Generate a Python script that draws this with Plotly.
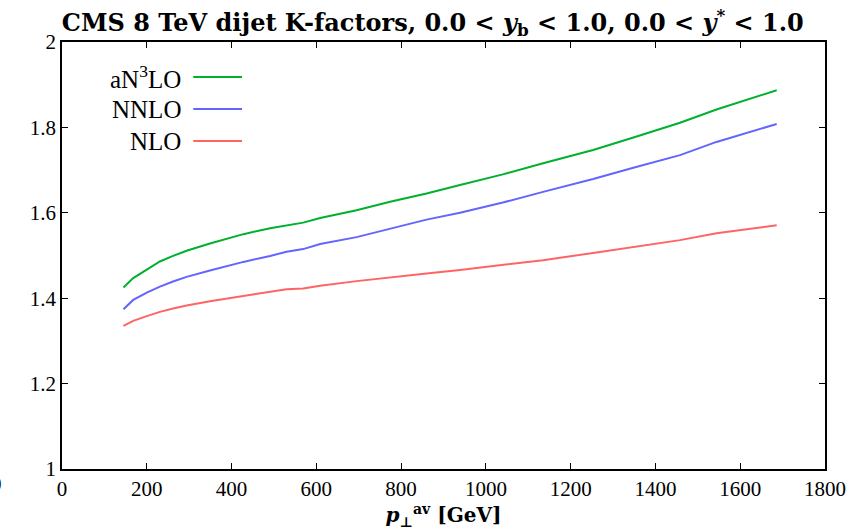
import plotly.graph_objects as go

pt = [145, 168, 200, 231, 262, 294, 349, 428, 491, 530, 569, 609, 695, 774,
      860, 939, 1040, 1135, 1253, 1350, 1458, 1544, 1686]
an3lo = [1.425, 1.447, 1.467, 1.486, 1.499, 1.511, 1.528, 1.550, 1.564, 1.571,
         1.577, 1.588, 1.606, 1.626, 1.645, 1.665, 1.690, 1.716, 1.747, 1.777,
         1.811, 1.842, 1.887]
nnlo = [1.374, 1.396, 1.413, 1.427, 1.439, 1.450, 1.465, 1.485, 1.499, 1.509,
        1.515, 1.527, 1.543, 1.563, 1.584, 1.600, 1.624, 1.649, 1.679, 1.706,
        1.735, 1.766, 1.808]
nlo = [1.335, 1.347, 1.358, 1.368, 1.376, 1.383, 1.393, 1.405, 1.414, 1.421,
       1.423, 1.429, 1.440, 1.449, 1.458, 1.466, 1.477, 1.489, 1.506, 1.520,
       1.536, 1.552, 1.571]

series_names = ["aN<sup>3</sup>LO", "NNLO", "NLO"]
series_vals = [an3lo, nnlo, nlo]
colors = ["#00b02e", "#6464ff", "#ff6464"]

FONT = "Liberation Serif"
WIDE = "DejaVu Serif"

fig = go.Figure()
for name, vals, c in zip(series_names, series_vals, colors):
    fig.add_trace(go.Scatter(x=pt, y=vals, mode="lines", name=name,
                             line=dict(color=c, width=2), showlegend=False))

# manual legend (text right, line sample to its right)
leg_y = [0.918, 0.843, 0.768]
for name, c, yy in zip(series_names, colors, leg_y):
    fig.add_annotation(xref="paper", yref="paper", x=0.158, y=yy, text=name,
                       showarrow=False, xanchor="right", yanchor="middle",
                       font=dict(family=FONT, size=25, color="black"))
    fig.add_shape(type="line", xref="paper", yref="paper", x0=0.172, x1=0.236,
                  y0=yy, y1=yy, line=dict(color=c, width=2))

# cut-off label at far left
fig.add_annotation(xref="paper", yref="paper", x=-0.076, y=-0.035, text="0",
                   showarrow=False, xanchor="right", yanchor="middle",
                   font=dict(family=FONT, size=21, color="black"))

axis_common = dict(showline=True, linecolor="black", linewidth=1.5, mirror="ticks",
                   ticks="inside", ticklen=6, tickcolor="black", showgrid=False,
                   zeroline=False, tickfont=dict(family=FONT, size=21, color="black"))

fig.update_layout(
    width=863, height=532,
    margin=dict(l=62, r=38, t=42, b=63),
    paper_bgcolor="white", plot_bgcolor="white",
    title=dict(text="<b>CMS 8 TeV dijet K-factors, 0.0 &lt; <i>y</i><sub>b</sub> &lt; 1.0, "
                    "0.0 &lt; <i>y</i><sup>*</sup> &lt; 1.0</b>",
               x=0.486, xref="paper", xanchor="center", y=0.958, yanchor="middle",
               font=dict(family=WIDE, size=24, color="black")),
    xaxis=dict(range=[0, 1800], dtick=200, tick0=0,
               title=dict(text="<b><i>p</i><sub>⊥</sub><sup>av</sup> [GeV]</b>",
                          font=dict(family=WIDE, size=20, color="black"), standoff=4),
               **axis_common),
    yaxis=dict(range=[1, 2], dtick=0.2, tick0=1, **axis_common),
)

fig.write_html("out.html")
